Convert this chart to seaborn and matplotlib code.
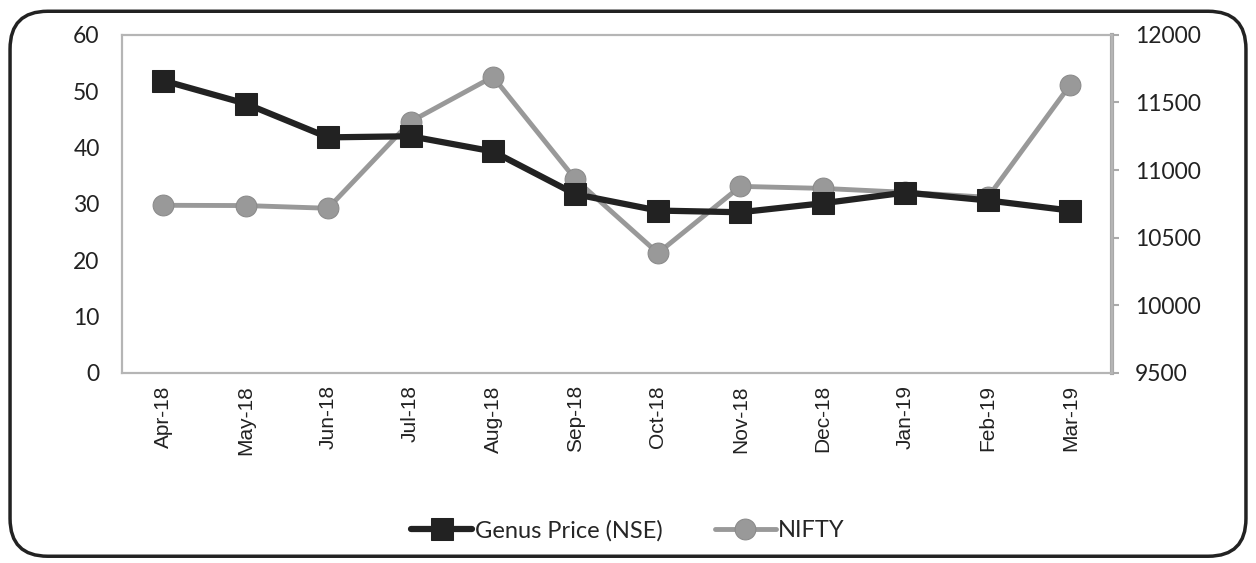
import seaborn as sns
import matplotlib.pyplot as plt
from matplotlib.patches import FancyBboxPatch
import pandas as pd

# monthly values
months = ["Apr-18", "May-18", "Jun-18", "Jul-18", "Aug-18", "Sep-18",
          "Oct-18", "Nov-18", "Dec-18", "Jan-19", "Feb-19", "Mar-19"]
genus_price = [51.9, 47.8, 41.8, 42.0, 39.3, 31.7, 28.8, 28.5, 30.1, 32.0, 30.6, 28.8]
nifty = [10739, 10737, 10717, 11358, 11690, 10931, 10385, 10879, 10864, 10835, 10798, 11631]

df = pd.DataFrame({"month": months, "genus": genus_price, "nifty": nifty})
df["pos"] = range(len(months))

sns.set_style("white")
plt.rcParams['font.family'] = ['Lato', 'DejaVu Sans']

fig = plt.figure(figsize=(12.56, 5.63), dpi=100)
ax = fig.add_axes([0.097, 0.338, 0.788, 0.600])
ax2 = ax.twinx()

sns.lineplot(data=df, x="pos", y="nifty", ax=ax2, color="#999999", lw=3.5,
             marker="o", markersize=15, markeredgecolor="#8a8a8a", label="NIFTY", legend=False)
sns.lineplot(data=df, x="pos", y="genus", ax=ax, color="#222222", lw=4.5,
             marker="s", markersize=16, markeredgecolor="#222222", label="Genus Price (NSE)", legend=False)

# genus line drawn above the nifty line
ax.set_zorder(ax2.get_zorder() + 1)
ax.patch.set_visible(False)

ax.set_xlim(-0.5, len(months) - 0.5)
ax.set_ylim(0, 60)
ax2.set_ylim(9500, 12000)
ax.set_yticks(range(0, 61, 10))
ax2.set_yticks(range(9500, 12001, 500))
ax.set_xticks(df["pos"])
ax.set_xticklabels(months, rotation=90, family="Liberation Sans", fontsize=15, color="#222222")
ax.set_xlabel("")
ax.set_ylabel("")
ax2.set_ylabel("")

ax.tick_params(axis="y", labelsize=16.5, colors="#222222", length=0, pad=16)
ax.tick_params(axis="x", length=0, pad=9)
ax2.tick_params(axis="y", labelsize=16.5, colors="#222222", length=5, width=1.5, pad=12, color="#aaaaaa")

for a in (ax, ax2):
    for side in ("left", "right", "top", "bottom"):
        a.spines[side].set_color("#b5b5b5")
        a.spines[side].set_linewidth(1.5)
ax2.spines["right"].set_linewidth(3)
ax2.spines["right"].set_color("#a8a8a8")

h1, l1 = ax.get_legend_handles_labels()
h2, l2 = ax2.get_legend_handles_labels()
fig.legend(h1 + h2, l1 + l2, loc="center", bbox_to_anchor=(0.5, 0.058), ncol=2,
           frameon=False, fontsize=17, handlelength=2.6, handletextpad=0.1, columnspacing=2.2)

# rounded outer frame
frame = FancyBboxPatch((0.008, 0.012), 0.984, 0.968, boxstyle="round,pad=0,rounding_size=0.03",
                       transform=fig.transFigure, fill=False, edgecolor="#222222", lw=2.5,
                       mutation_aspect=1256 / 563)
fig.patches.append(frame)

fig.savefig("out.png", dpi=100)
